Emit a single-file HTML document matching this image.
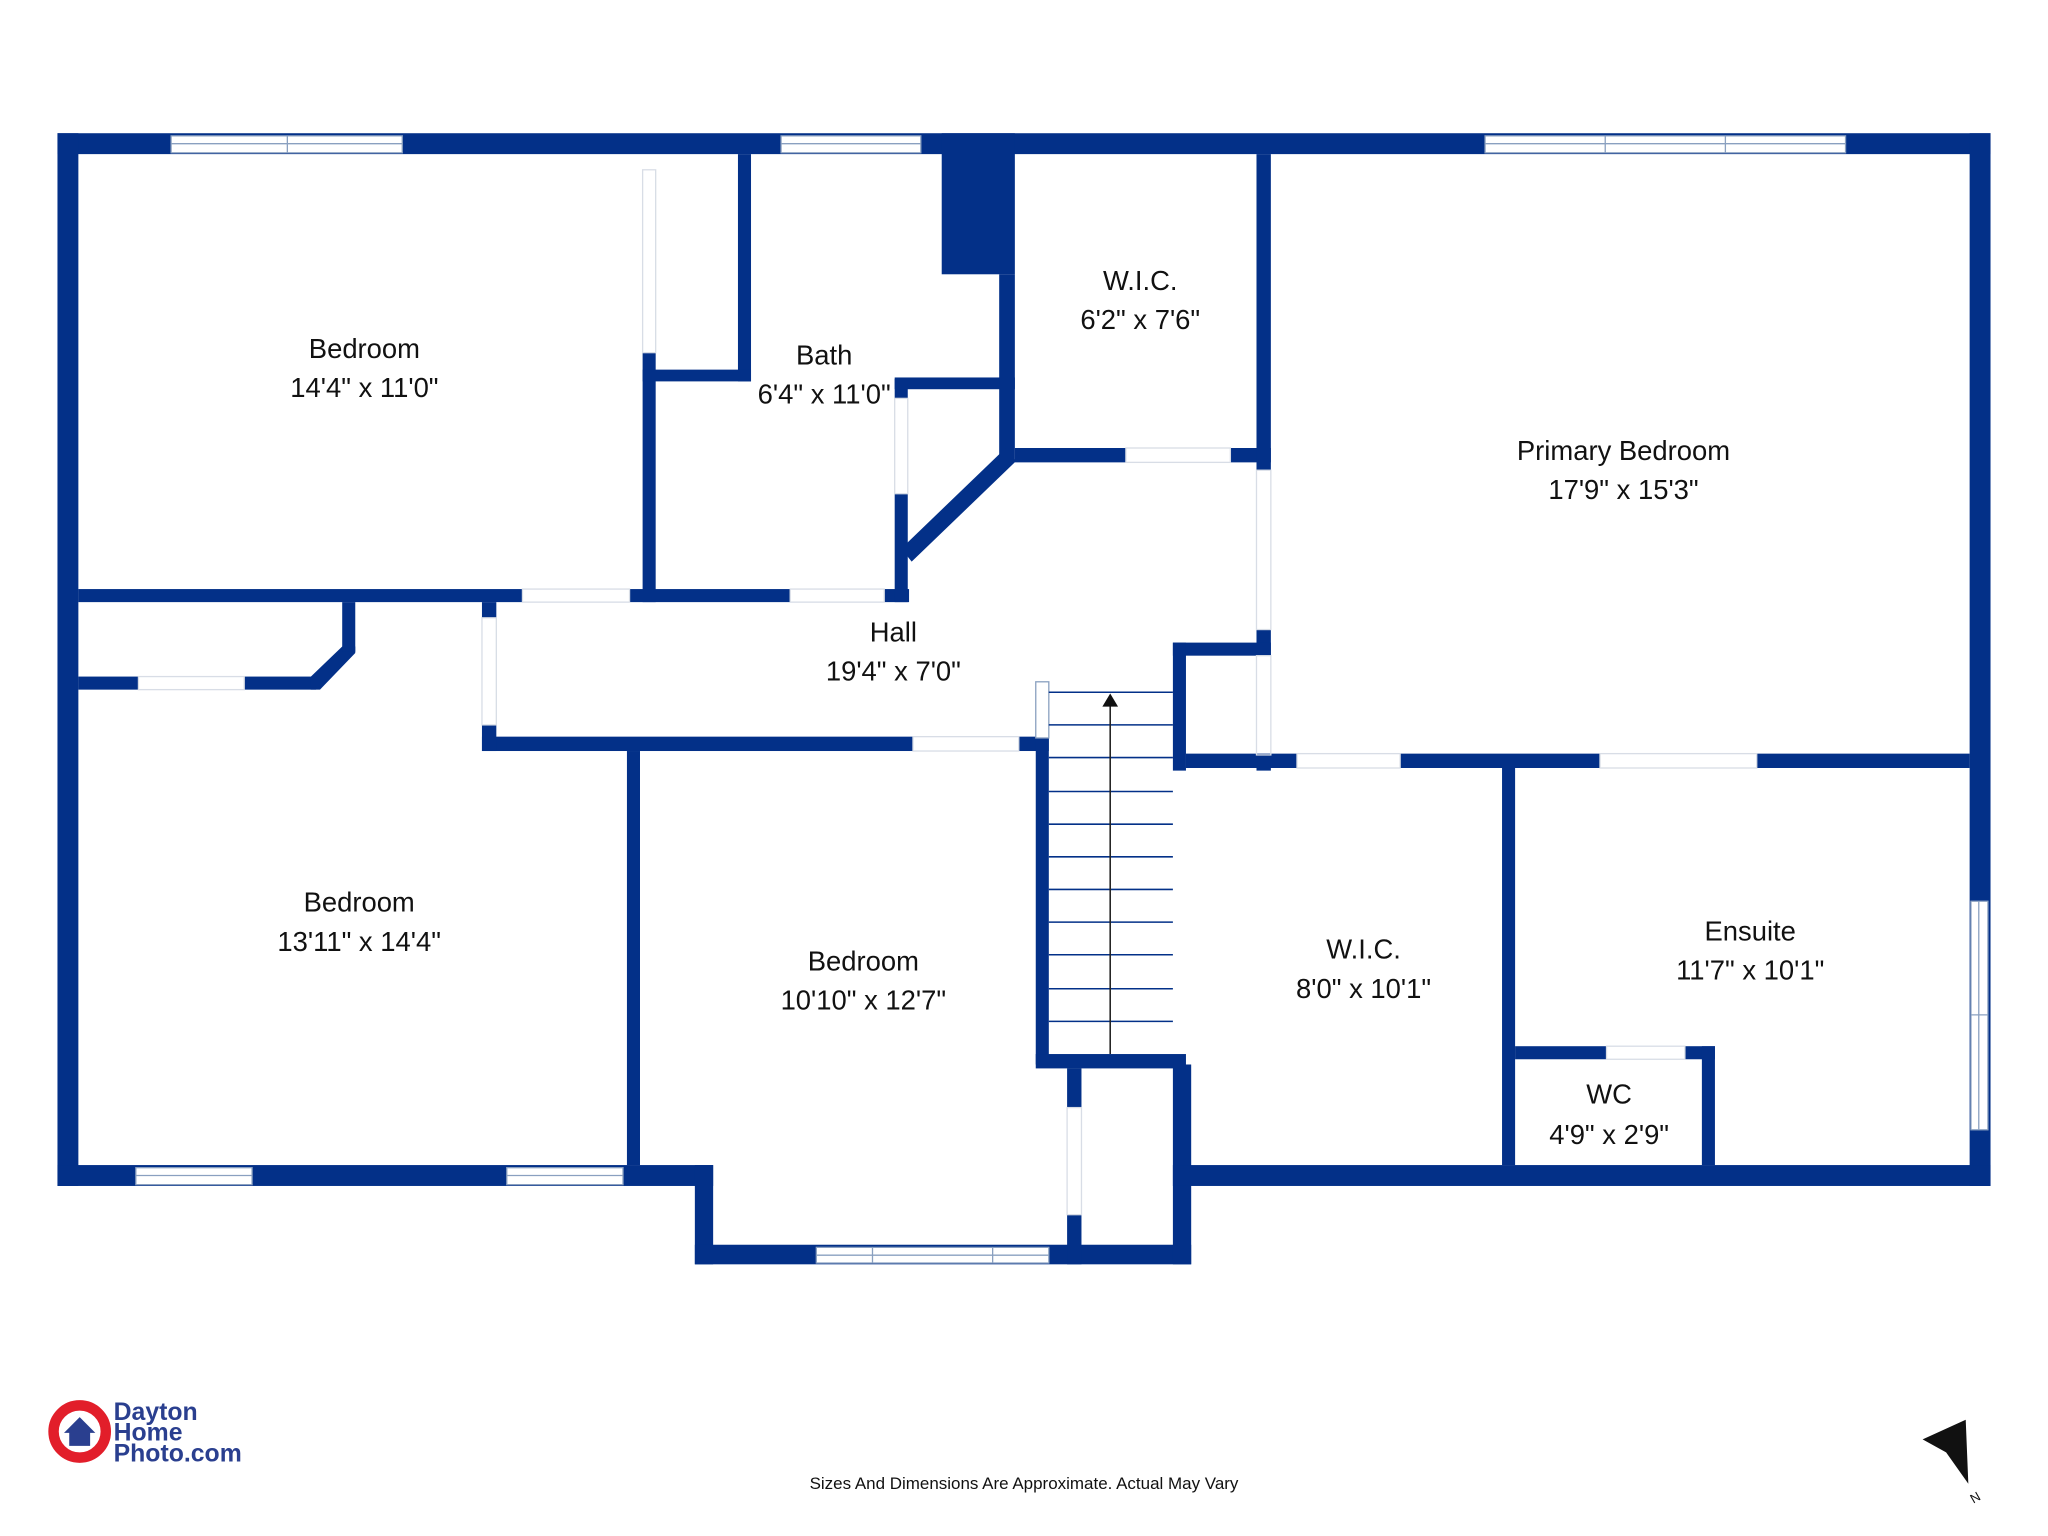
<!DOCTYPE html>
<html><head><meta charset="utf-8"><style>
html,body{margin:0;padding:0;background:#fff;width:2048px;height:1536px;overflow:hidden}
svg{display:block}
text{font-family:"Liberation Sans",sans-serif;fill:#111;text-anchor:middle}
</style></head><body>
<svg width="2048" height="1536" viewBox="0 0 1568 1176" xmlns="http://www.w3.org/2000/svg">
<g fill="#033088">
<rect x="44" y="102" width="1480" height="16"/>
<rect x="44" y="102" width="16" height="806"/>
<rect x="1508" y="102" width="16" height="806"/>
<rect x="44" y="892" width="502" height="16"/>
<rect x="532" y="892" width="14" height="76"/>
<rect x="532" y="953" width="380" height="15"/>
<rect x="898" y="815" width="14" height="153"/>
<rect x="898" y="892" width="626" height="16"/>
<rect x="721" y="102" width="56" height="108"/>
<rect x="492" y="270" width="10" height="191"/>
<rect x="565" y="118" width="10" height="174"/>
<rect x="492" y="283" width="83" height="9"/>
<rect x="60" y="451" width="340" height="10"/>
<rect x="482" y="451" width="123" height="10"/>
<rect x="677" y="451" width="19" height="10"/>
<rect x="685" y="290" width="10" height="15"/>
<rect x="685" y="378" width="10" height="83"/>
<rect x="685" y="289" width="92" height="9"/>
<rect x="765" y="210" width="12" height="143"/>
<polygon points="690,420 770,343 778,353 698,430"/>
<rect x="777" y="343" width="85" height="11"/>
<rect x="942" y="343" width="31" height="11"/>
<rect x="962" y="118" width="11" height="242"/>
<rect x="962" y="482" width="11" height="20"/>
<rect x="962" y="578" width="11" height="12"/>
<rect x="898" y="492" width="75" height="10"/>
<rect x="898" y="492" width="10" height="98"/>
<rect x="369" y="564" width="330" height="11"/>
<rect x="369" y="461" width="11" height="12"/>
<rect x="369" y="555" width="11" height="20"/>
<rect x="60" y="518" width="46" height="10"/>
<rect x="187" y="518" width="55" height="10"/>
<polygon points="238,518 262,495 272,495 272,500 245,528 238,528"/>
<rect x="262" y="461" width="10" height="38"/>
<rect x="480" y="575" width="10" height="317"/>
<rect x="780" y="564" width="23" height="11"/>
<rect x="793" y="565" width="10" height="250"/>
<rect x="793" y="807" width="115" height="11"/>
<rect x="817" y="818" width="11" height="30"/>
<rect x="817" y="930" width="11" height="38"/>
<rect x="908" y="577" width="85" height="11"/>
<rect x="1072" y="577" width="153" height="11"/>
<rect x="1345" y="577" width="163" height="11"/>
<rect x="1150" y="588" width="10" height="304"/>
<rect x="1160" y="801" width="70" height="10"/>
<rect x="1290" y="801" width="23" height="10"/>
<rect x="1303" y="801" width="10" height="91"/>
</g>
<g fill="#fff" stroke="#8aa0c0" stroke-width="1">
<rect x="131" y="104" width="177" height="13"/><line x1="131" y1="110" x2="308" y2="110"/><line x1="220" y1="104" x2="220" y2="117"/>
<rect x="598" y="104" width="107" height="13"/><line x1="598" y1="110" x2="705" y2="110"/>
<rect x="1137" y="104" width="276" height="13"/><line x1="1137" y1="110" x2="1413" y2="110"/><line x1="1229" y1="104" x2="1229" y2="117"/><line x1="1321" y1="104" x2="1321" y2="117"/>
<rect x="104" y="894" width="89" height="13"/><line x1="104" y1="900" x2="193" y2="900"/>
<rect x="388" y="894" width="89" height="13"/><line x1="388" y1="900" x2="477" y2="900"/>
<rect x="625" y="955" width="178" height="12"/><line x1="625" y1="961" x2="803" y2="961"/><line x1="668" y1="955" x2="668" y2="967"/><line x1="760" y1="955" x2="760" y2="967"/>
<rect x="1509" y="690" width="13" height="175"/><line x1="1515" y1="690" x2="1515" y2="865"/><line x1="1509" y1="777" x2="1522" y2="777"/>
<rect x="793" y="522" width="10" height="43"/>
</g>
<g stroke="#d8dde6" stroke-width="1" fill="none">
<rect x="492" y="130" width="10" height="140"/>
<rect x="685" y="305" width="10" height="73"/>
<rect x="862" y="343" width="80" height="11"/>
<rect x="962" y="360" width="11" height="122"/>
<rect x="962" y="502" width="11" height="76"/>
<rect x="400" y="451" width="82" height="10"/>
<rect x="605" y="451" width="72" height="10"/>
<rect x="369" y="473" width="11" height="82"/>
<rect x="106" y="518" width="81" height="10"/>
<rect x="699" y="564" width="81" height="11"/>
<rect x="817" y="848" width="11" height="82"/>
<rect x="993" y="577" width="79" height="11"/>
<rect x="1225" y="577" width="120" height="11"/>
<rect x="1230" y="801" width="60" height="10"/>
</g>
<g stroke="#033088" stroke-width="1.2">
<line x1="803" y1="530" x2="898" y2="530"/>
<line x1="803" y1="555" x2="898" y2="555"/>
<line x1="803" y1="580" x2="898" y2="580"/>
<line x1="803" y1="606" x2="898" y2="606"/>
<line x1="803" y1="631" x2="898" y2="631"/>
<line x1="803" y1="656" x2="898" y2="656"/>
<line x1="803" y1="681" x2="898" y2="681"/>
<line x1="803" y1="706" x2="898" y2="706"/>
<line x1="803" y1="731" x2="898" y2="731"/>
<line x1="803" y1="757" x2="898" y2="757"/>
<line x1="803" y1="782" x2="898" y2="782"/>
<line x1="850" y1="540" x2="850" y2="807" stroke="#222"/>
</g>
<polygon points="844,541 850,531 856,541" fill="#111"/>
<g font-size="21">
<text x="279" y="274">Bedroom</text><text x="279" y="304">14'4" x 11'0"</text>
<text x="631" y="279">Bath</text><text x="631" y="309">6'4" x 11'0"</text>
<text x="873" y="222">W.I.C.</text><text x="873" y="252">6'2" x 7'6"</text>
<text x="1243" y="352">Primary Bedroom</text><text x="1243" y="382">17'9" x 15'3"</text>
<text x="684" y="491">Hall</text><text x="684" y="521">19'4" x 7'0"</text>
<text x="275" y="698">Bedroom</text><text x="275" y="728">13'11" x 14'4"</text>
<text x="661" y="743">Bedroom</text><text x="661" y="773">10'10" x 12'7"</text>
<text x="1044" y="734">W.I.C.</text><text x="1044" y="764">8'0" x 10'1"</text>
<text x="1340" y="720">Ensuite</text><text x="1340" y="750">11'7" x 10'1"</text>
<text x="1232" y="845">WC</text><text x="1232" y="876">4'9" x 2'9"</text>
</g>
<text x="784" y="1140" font-size="13">Sizes And Dimensions Are Approximate. Actual May Vary</text>
<circle cx="61" cy="1096" r="20" fill="none" stroke="#e21e2a" stroke-width="8"/>
<circle cx="61" cy="1096" r="15" fill="#fff"/>
<polygon points="49,1097 61,1085 73,1097 69,1097 69,1107 53,1107 53,1097" fill="#2a3f8f"/>
<text x="87" y="1087" font-size="19" font-weight="bold" style="text-anchor:start;fill:#2a3f8f">Dayton</text>
<text x="87" y="1103" font-size="19" font-weight="bold" style="text-anchor:start;fill:#2a3f8f">Home</text>
<text x="87" y="1119" font-size="19" font-weight="bold" style="text-anchor:start;fill:#2a3f8f">Photo.com</text>
<polygon points="1472,1102 1505,1087 1507,1136 1490,1112" fill="#111"/>
<text x="1512" y="1150" font-size="10" transform="rotate(-30 1512 1146)">N</text>
</svg>
</body></html>
